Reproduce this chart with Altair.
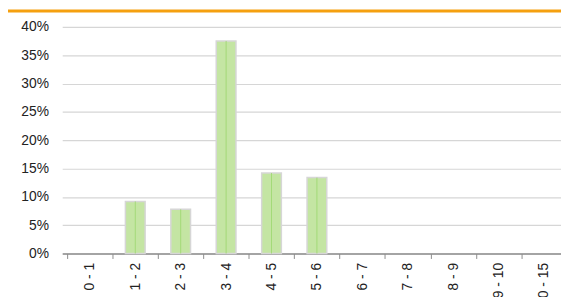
import altair as alt
import pandas as pd

categories = ["0 - 1", "1 - 2", "2 - 3", "3 - 4", "4 - 5", "5 - 6",
              "6 - 7", "7 - 8", "8 - 9", "9 - 10", "10 - 15"]
shares = [0.0, 0.092, 0.078, 0.375, 0.142, 0.134, 0.0, 0.0, 0.0, 0.0, 0.0]

n = len(categories)
df = pd.DataFrame({"cat": categories, "share": shares,
                   "pos": [i + 0.5 for i in range(n)]})

PLOT_W = 506
STEP = 47
xscale = alt.Scale(domain=[0, PLOT_W / STEP], nice=False, zero=False)

label_expr = "[" + ",".join("'%s'" % c for c in categories) + "][floor(datum.value)]"

axis_ticks = alt.Axis(values=list(range(n + 1)), labels=False, orient="bottom",
                      domainColor="#8c8c8c", domainWidth=1.5, tickColor="#8c8c8c",
                      tickSize=5, tickWidth=1, grid=False, title=None)
axis_labels = alt.Axis(values=[i + 0.5 for i in range(n)], labelExpr=label_expr,
                       orient="bottom", labelAngle=-90, labelFont="Liberation Sans",
                       labelFontSize=14, labelColor="#222", labelPadding=9,
                       ticks=False, tickSize=0, domain=False, grid=False, title=None)

y = alt.Y("share:Q", title=None,
          scale=alt.Scale(domain=[0, 0.4], nice=False),
          axis=alt.Axis(format=".0%", values=[0, 0.05, 0.1, 0.15, 0.2, 0.25, 0.3, 0.35, 0.4],
                        labelFont="Liberation Sans", labelFontSize=14, labelColor="#222",
                        labelPadding=14, ticks=False, domain=False,
                        gridColor="#d6d6d6", gridWidth=1.2))

base = alt.Chart(df).transform_filter("datum.share > 0")

bars = base.mark_bar(size=20, fill="#c4e5a3", stroke="#d6d6d6", strokeWidth=1.5).encode(
    x=alt.X("pos:Q", scale=xscale, axis=axis_ticks), y=y)

center = base.mark_rule(color="#a3d977", strokeWidth=1).encode(
    x=alt.X("pos:Q", scale=xscale, axis=None), y=y, y2=alt.datum(0))

labels = alt.Chart(df).mark_point(opacity=0).encode(
    x=alt.X("pos:Q", scale=xscale, axis=axis_labels), y=y)

topline = alt.Chart(df.head(1)).mark_rule(color="#f5a00f", strokeWidth=3).encode(
    x=alt.value(-55), x2=alt.value(PLOT_W), y=alt.value(-16))

chart = alt.layer(bars, center, labels, topline).resolve_axis(x="independent").properties(
    width=PLOT_W, height=230,
    padding={"left": 55, "top": 17, "right": 0, "bottom": 42},
    autosize=alt.AutoSizeParams(type="none"),
).configure_view(stroke=None)

chart.save("out.html", embed_options={"renderer": "svg", "actions": False})
